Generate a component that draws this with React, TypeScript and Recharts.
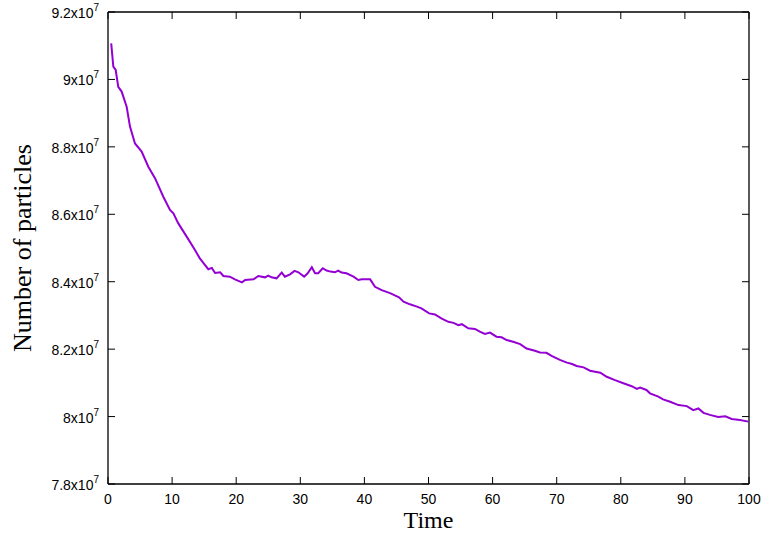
import React from 'react';
import { LineChart, Line, XAxis, YAxis, ReferenceLine, Label } from 'recharts';

// time values
const times = [
  0.5, 0.83, 1.2, 1.6, 2.13, 2.91, 3.43, 4.21, 5.25, 6.29, 7.33, 8.63, 9.67, 10.2, 10.97, 12.3, 13.57, 14.3,
  14.9, 15.65, 16.2, 16.7, 17.5, 18.0, 19.0, 19.8, 20.9, 21.4, 22.7, 23.45, 24.5, 25.0, 25.5, 26.3, 27.1,
  27.6, 28.4, 29.1, 29.7, 30.6, 31.15, 31.8, 32.3, 32.8, 33.5, 34.1, 34.7, 35.4, 35.9, 36.45, 37.2, 38.3,
  39.05, 39.6, 40.9, 41.65, 42.7, 44.0, 45.4, 46.1, 47.1, 48.2, 48.9, 50.1, 51.0, 52.0, 53.1, 53.9, 54.65,
  55.2, 56.2, 57.25, 58.0, 58.8, 59.6, 60.6, 61.4, 62.2, 63.2, 64.3, 65.3, 66.6, 67.4, 68.4, 69.2, 70.5,
  71.6, 72.4, 73.1, 74.2, 75.2, 76.8, 77.8, 79.1, 80.4, 81.7, 82.5, 83.0, 84.0, 84.55, 85.85, 86.6, 87.7,
  89.0, 90.3, 91.3, 92.1, 92.9, 93.9, 95.2, 96.3, 97.3, 98.6, 99.9,
];

// number of particles, in units of 10^7
const particles = [
  9.107, 9.038, 9.028, 8.978, 8.964, 8.919, 8.86, 8.81, 8.786, 8.741, 8.707, 8.652, 8.613, 8.603, 8.573, 8.533, 8.494, 8.47,
  8.455, 8.437, 8.441, 8.426, 8.428, 8.417, 8.415, 8.407, 8.398, 8.405, 8.407, 8.417, 8.413, 8.418, 8.413, 8.41, 8.427,
  8.415, 8.422, 8.432, 8.428, 8.415, 8.425, 8.443, 8.425, 8.425, 8.44, 8.433, 8.43, 8.428, 8.433, 8.427, 8.425, 8.415,
  8.405, 8.407, 8.407, 8.385, 8.375, 8.366, 8.354, 8.341, 8.333, 8.326, 8.321, 8.306, 8.303, 8.291, 8.281, 8.278, 8.271,
  8.274, 8.262, 8.26, 8.252, 8.245, 8.249, 8.237, 8.235, 8.227, 8.222, 8.215, 8.202, 8.195, 8.19, 8.189, 8.18, 8.168,
  8.16, 8.156, 8.15, 8.146, 8.136, 8.13, 8.118, 8.108, 8.099, 8.09, 8.082, 8.086, 8.079, 8.069, 8.059, 8.051, 8.044,
  8.034, 8.031, 8.019, 8.024, 8.011, 8.005, 7.999, 8.001, 7.993, 7.99, 7.985,
];

const xTicks = [0, 10, 20, 30, 40, 50, 60, 70, 80, 90, 100];
const yTicks = [7.8, 8.0, 8.2, 8.4, 8.6, 8.8, 9.0, 9.2];

const data = times.map((t, i) => ({ t, n: particles[i] }));

const W = 764;
const H = 536;
const MARGIN = { top: 12, right: 15, bottom: 0, left: 0 };
const Y_AXIS_W = 108;
const X_AXIS_H = 52;
const PLOT_W = W - MARGIN.left - MARGIN.right - Y_AXIS_W;
const PLOT_H = H - MARGIN.top - MARGIN.bottom - X_AXIS_H;
const TICK = 7;

const sans = 'Liberation Sans, Arial, sans-serif';
const serif = 'Liberation Serif, Times New Roman, serif';

const XTick = (props: any) => {
  const { x, y, payload } = props;
  return (
    <g>
      <line x1={x} x2={x} y1={y} y2={y - TICK} stroke="#000" />
      <line x1={x} x2={x} y1={y - PLOT_H} y2={y - PLOT_H + TICK} stroke="#000" />
      <text x={x} y={y + 20} textAnchor="middle" fontFamily={sans} fontSize={14} fill="#000">
        {payload.value}
      </text>
    </g>
  );
};

const YTick = (props: any) => {
  const { x, y, payload } = props;
  const label = String(Number(payload.value.toFixed(1)));
  return (
    <g>
      <line x1={x} x2={x + TICK} y1={y} y2={y} stroke="#000" />
      <line x1={x + PLOT_W - TICK} x2={x + PLOT_W} y1={y} y2={y} stroke="#000" />
      <text x={x - 9} y={y + 6} textAnchor="end" fontFamily={sans} fontSize={14} fill="#000">
        <tspan>{label}x10</tspan>
        <tspan dy={-7} fontSize={10}>7</tspan>
      </text>
    </g>
  );
};

export default function App() {
  return (
    <div style={{ position: 'absolute', left: 0, top: 0, width: W, height: H }}>
      <LineChart width={W} height={H} data={data} margin={MARGIN}>
        <XAxis
          dataKey="t"
          type="number"
          domain={[0, 100]}
          ticks={xTicks}
          interval={0}
          height={X_AXIS_H}
          tickSize={0}
          tickMargin={0}
          tickLine={false}
          axisLine={{ stroke: '#000', strokeWidth: 1.3 }}
          tick={<XTick />}
        >
          <Label
            content={(p: any) => {
              const vb = p.viewBox;
              return (
                <text x={vb.x + vb.width / 2} y={vb.y + 44} textAnchor="middle" fontFamily={serif} fontSize={24} fill="#000">
                  Time
                </text>
              );
            }}
          />
        </XAxis>
        <YAxis
          type="number"
          domain={[7.8, 9.2]}
          ticks={yTicks}
          interval={0}
          width={Y_AXIS_W}
          tickSize={0}
          tickMargin={0}
          tickLine={false}
          axisLine={{ stroke: '#000', strokeWidth: 1.3 }}
          tick={<YTick />}
        >
          <Label
            content={(p: any) => {
              const vb = p.viewBox;
              const cx = 31;
              const cy = vb.y + vb.height / 2;
              return (
                <text
                  x={cx}
                  y={cy}
                  transform={`rotate(-90, ${cx}, ${cy})`}
                  textAnchor="middle"
                  fontFamily={serif}
                  fontSize={26}
                  fill="#000"
                >
                  Number of particles
                </text>
              );
            }}
          />
        </YAxis>
        <ReferenceLine y={9.2} stroke="#000" strokeWidth={1.3} />
        <ReferenceLine x={100} stroke="#000" strokeWidth={1.3} />
        <Line type="linear" dataKey="n" stroke="#9400D3" strokeWidth={2} dot={false} isAnimationActive={false} />
      </LineChart>
    </div>
  );
}
